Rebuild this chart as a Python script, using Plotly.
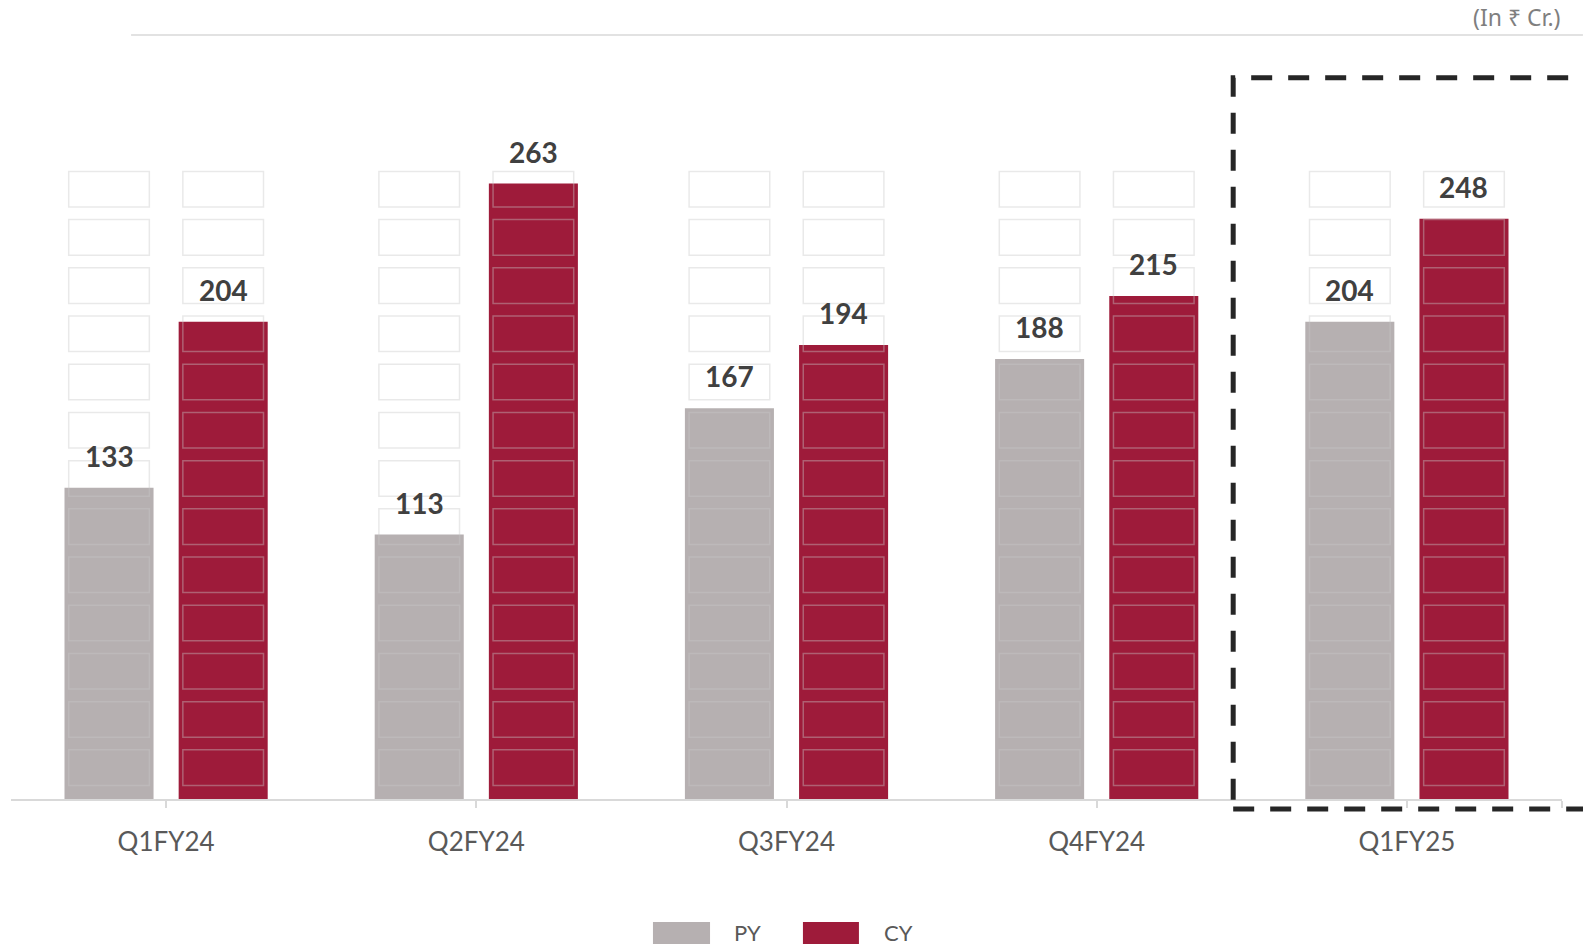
import plotly.graph_objects as go

# Data
quarters = ["Q1FY24", "Q2FY24", "Q3FY24", "Q4FY24", "Q1FY25"]
py_values = [133, 113, 167, 188, 204]
cy_values = [204, 263, 194, 215, 248]
series_names = ["PY", "CY"]
unit_note = "(In ₹ Cr.)"

# Style
GREY = "#B6B0B1"
RED = "#9E1B3A"
FONT = "Lato"
BARGAP = 0.264
GROUPGAP = 0.22
Y_MAX = 300

x_idx = list(range(len(quarters)))
off = (1 - BARGAP) / 4  # centre offset of each bar inside its group

fig = go.Figure()
fig.add_trace(go.Bar(x=x_idx, y=py_values, name=series_names[0],
                     marker=dict(color=GREY, line=dict(width=0)), showlegend=False))
fig.add_trace(go.Bar(x=x_idx, y=cy_values, name=series_names[1],
                     marker=dict(color=RED, line=dict(width=0)), showlegend=False))

# value labels above the bars
for i in x_idx:
    for val, dx in ((py_values[i], -off), (cy_values[i], off)):
        fig.add_annotation(x=i + dx, y=val, text=f"<b>{val}</b>", showarrow=False,
                           yanchor="middle", yshift=32,
                           font=dict(family=FONT, size=28, color="#404040"))

# decorative grid of boxes behind / over the bars
box_w = 0.26
box_h = 15.2
pitch = 20.6
for i in x_idx:
    for dx in (-off, off):
        for k in range(13):
            y0 = 5.8 + k * pitch
            fig.add_shape(type="rect", xref="x", yref="y",
                          x0=i + dx - box_w / 2, x1=i + dx + box_w / 2,
                          y0=y0, y1=y0 + box_h,
                          line=dict(color="rgba(200,200,200,0.4)", width=1.5),
                          fillcolor="rgba(0,0,0,0)", layer="above")

# top rule and unit note
fig.add_shape(type="line", xref="paper", yref="paper", x0=0.0774, x1=1.0135,
              y0=1.0883, y1=1.0883, line=dict(color="#D9D9D9", width=1.5))
fig.add_annotation(xref="paper", yref="paper", x=1.0, y=1.1145, text=unit_note,
                   showarrow=False, xanchor="right", yanchor="middle",
                   font=dict(family="Noto Sans", size=23, color="#7F7F7F"))

# dashed highlight box around the latest quarter
fig.add_shape(type="rect", xref="paper", yref="paper", x0=0.788, x1=1.03,
              y0=-0.01425, y1=1.0275,
              line=dict(color="#262626", width=5, dash="21px,16px"),
              fillcolor="rgba(0,0,0,0)")

# custom legend
legend_items = [(series_names[0], GREY, 0.4139, 0.4507, 0.4649),
                (series_names[1], RED, 0.5106, 0.5467, 0.5616)]
for name, color, sx0, sx1, tx in legend_items:
    fig.add_shape(type="rect", xref="paper", yref="paper", x0=sx0, x1=sx1,
                  y0=-0.2066, y1=-0.1752, fillcolor=color, line=dict(width=0))
    fig.add_annotation(xref="paper", yref="paper", x=tx, y=-0.1895, text=name,
                       showarrow=False, xanchor="left", yanchor="middle",
                       font=dict(family=FONT, size=22, color="#595959"))

fig.update_layout(
    barmode="group", bargap=BARGAP, bargroupgap=GROUPGAP,
    width=1583, height=946,
    margin=dict(l=11, r=21, t=97, b=147),
    paper_bgcolor="white", plot_bgcolor="white",
    showlegend=False,
    font=dict(family=FONT),
)
fig.update_xaxes(range=[-0.5, 4.5], tickvals=x_idx + [4.5], ticktext=quarters + [""],
                 showgrid=False, zeroline=False, showline=True, linecolor="#D9D9D9",
                 linewidth=2, ticks="outside", ticklen=7, tickcolor="#D9D9D9", tickwidth=2,
                 ticklabelstandoff=12,
                 tickfont=dict(family=FONT, size=26, color="#595959"))
fig.update_yaxes(range=[0, Y_MAX], visible=False, showgrid=False, zeroline=False)

# drop the default body margin so the chart sits at the window's corner
fig.write_html("out.html", config={"displayModeBar": False},
               post_script="document.body.style.margin='0';")
